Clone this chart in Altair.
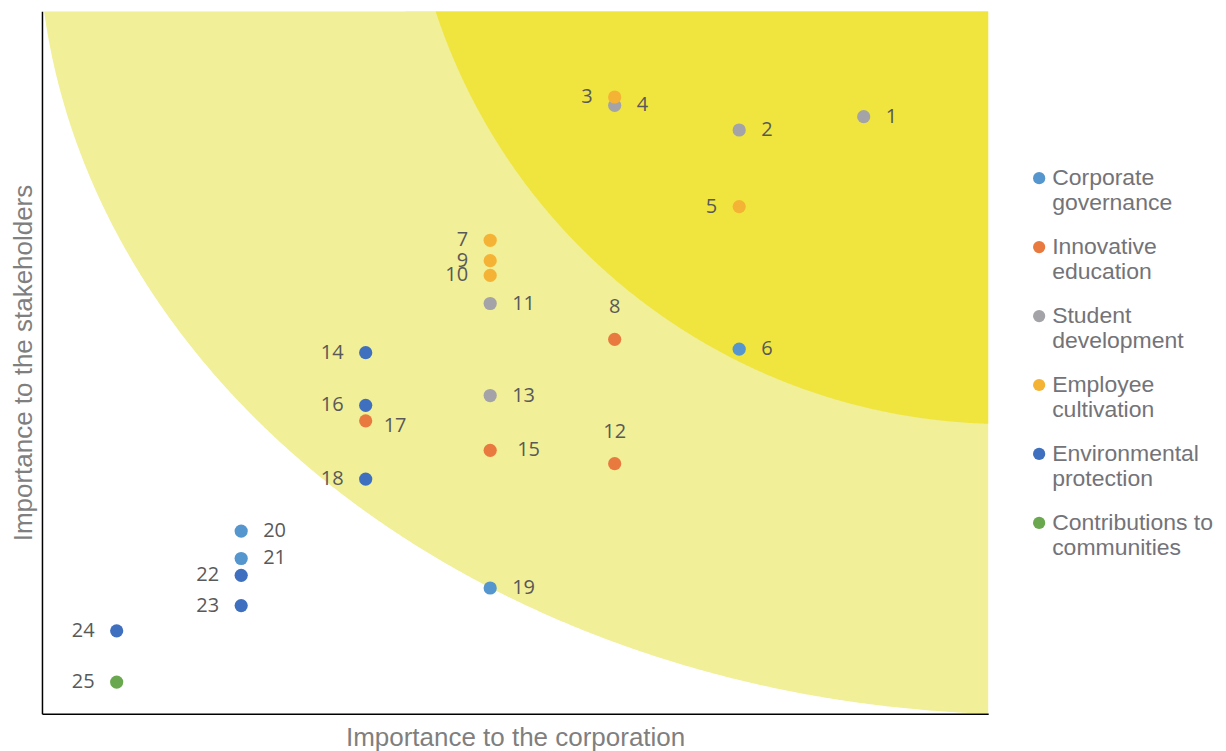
import numpy as np
import pandas as pd
import altair as alt

# ---- series / legend ----
series = ["Corporate governance", "Innovative education", "Student development",
          "Employee cultivation", "Environmental protection", "Contributions to communities"]
legend_lines = ["Corporate\ngovernance", "Innovative\neducation", "Student\ndevelopment",
                "Employee\ncultivation", "Environmental\nprotection", "Contributions to\ncommunities"]
colors = ["#5596CE", "#E97A3F", "#A3A3A8", "#F5B335", "#3F70BF", "#6AA84F"]

# ---- material issues ----
ids = list(range(1, 26))
corp_importance = [7, 6, 5, 5, 6, 6, 4, 5, 4, 4, 4, 5, 4, 3, 4, 3, 3, 3, 4, 2, 2, 2, 2, 1, 1]
stake_importance = [8.50, 8.31, 8.78, 8.66, 7.22, 5.19, 6.74, 5.33, 6.45, 6.24, 5.84, 3.56, 4.53,
                    5.14, 3.75, 4.39, 4.17, 3.34, 1.79, 2.60, 2.21, 1.97, 1.54, 1.18, 0.45]
issue_series = [2, 2, 3, 2, 3, 0, 3, 1, 3, 3, 2, 1, 2, 4, 1, 4, 1, 4, 0, 0, 0, 4, 4, 4, 5]
label_side = ["right", "right", "left", "right", "left", "right", "left", "above", "left", "left",
              "right", "above", "right", "left", "right-far", "left", "right-low", "left", "right", "right",
              "right", "left", "left", "left", "left"]

# ---- background zones (ellipses, data units) ----
zone_cx = [8.321, 8.137]
zone_cy = [11.223, 12.660]
zone_rx = [7.951, 4.815]
zone_ry = [11.232, 8.535]
zone_colors = ["#F1EF97", "#F0E53E"]

X_DOMAIN = [0.4, 8.0]
Y_DOMAIN = [0, 10]

pts = pd.DataFrame({
    "id": ids,
    "x": corp_importance,
    "y": stake_importance,
    "sidx": issue_series,
    "series": [series[i] for i in issue_series],
    "side": label_side,
}).sort_values(["sidx", "id"], kind="stable")

xs = alt.Scale(domain=X_DOMAIN, nice=False, zero=False)
ys = alt.Scale(domain=Y_DOMAIN, nice=False, zero=False)
common_axis = dict(labels=False, ticks=False, grid=False, domainColor="#000000", domainWidth=1.5,
                   titleFontSize=26, titleFont="Liberation Sans", titleFontWeight="normal",
                   titleColor="#7f7f7f", zindex=1)
X = alt.X("x:Q", scale=xs, axis=alt.Axis(title="Importance to the corporation", titlePadding=11, **common_axis))
Y = alt.Y("y:Q", scale=ys, axis=alt.Axis(title="Importance to the stakeholders", titlePadding=5, **common_axis))
cscale = alt.Scale(domain=series, range=colors)

layers = []
theta = np.linspace(np.pi, 1.5 * np.pi, 600)
for cx, cy, rx, ry, col in zip(zone_cx, zone_cy, zone_rx, zone_ry, zone_colors):
    zdf = pd.DataFrame({"x": cx + rx * np.cos(theta), "y": cy + ry * np.sin(theta)})
    layers.append(
        alt.Chart(zdf).mark_area(clip=True, color=col, opacity=1).encode(
            x=X, y=Y, y2=alt.datum(Y_DOMAIN[1])
        )
    )

layers.append(
    alt.Chart(pts).mark_circle(size=175, opacity=1).encode(
        x=X, y=Y, color=alt.Color("series:N", scale=cscale, legend=None)
    )
)

txt_style = dict(font="Open Sans", fontSize=20, color="#595959", baseline="middle")
placements = [
    ("right", dict(align="left", dx=22)),
    ("right-far", dict(align="left", dx=27)),
    ("right-low", dict(align="left", dx=18, dy=5)),
    ("left", dict(align="right", dx=-22)),
    ("above", dict(align="center", dy=-32)),
]
for side, opts in placements:
    layers.append(alt.Chart(pts).transform_filter(alt.datum.side == side).mark_text(
        **opts, **txt_style).encode(x=X, y=Y, text="id:N"))

main = alt.layer(*layers).properties(width=947, height=703)

leg_df = pd.DataFrame({"series": series, "label": legend_lines})
ly = alt.Y("series:N", sort=series, scale=alt.Scale(type="point", range=[167, 512], padding=0), axis=None)
leg_pts = alt.Chart(leg_df).mark_circle(size=150, opacity=1).encode(
    x=alt.value(51), y=ly, color=alt.Color("series:N", scale=cscale, legend=None))
leg_txt = alt.Chart(leg_df).mark_text(
    align="left", baseline="top", dy=-11, lineBreak="\n", lineHeight=25,
    font="Liberation Sans", fontSize=23, color="#737378").encode(
    x=alt.value(64), y=ly, text="label:N")
legend = alt.layer(leg_pts, leg_txt).properties(width=230, height=703)

chart = alt.hconcat(main, legend, spacing=0).configure_view(stroke=None).properties(
    padding={"left": 3, "top": 3, "right": 0, "bottom": 0}
)

chart.save("out.html", embed_options={"renderer": "svg", "actions": False})
